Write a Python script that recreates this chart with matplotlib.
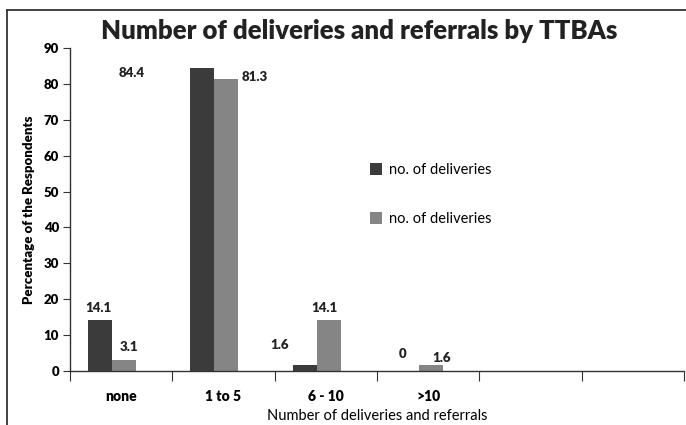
import numpy as np
import matplotlib
matplotlib.use("Agg")
import matplotlib.pyplot as plt
from matplotlib.lines import Line2D

# data
categories = ["none", "1 to 5", "6 - 10", ">10", "", ""]
deliveries = [14.1, 84.4, 1.6, 0]
referrals = [3.1, 81.3, 14.1, 1.6]
legend_labels = ["no. of deliveries", "no. of deliveries"]
yticks = [0, 10, 20, 30, 40, 50, 60, 70, 80, 90]

plt.rcParams['font.family'] = ['Lato', 'DejaVu Sans']
BOLD = "heavy"

fig = plt.figure(figsize=(6.86, 4.25), dpi=100)
ax = fig.add_axes([70 / 686, 1 - 371 / 425, 614 / 686, 323 / 425])

# frame around the figure (clipped by the image edges)
fx, fy = 7 / 686, 1 - 10 / 425
fig.add_artist(Line2D([fx, fx], [-0.1, fy], transform=fig.transFigure, color="#333333", lw=1.3))
fig.add_artist(Line2D([fx, 1.1], [fy, fy], transform=fig.transFigure, color="#333333", lw=1.3))

w = 0.235
shift = -0.09
x = np.arange(len(deliveries))
dark, light = "#3b3b3b", "#858585"
b1 = ax.bar(x + shift - w / 2, deliveries, w, color=dark, label=legend_labels[0])
b2 = ax.bar(x + shift + w / 2, referrals, w, color=light, label=legend_labels[1])

# value labels
lab_kw = dict(fontsize=9.5, fontweight=BOLD, color="#222222", textcoords="offset pixels")
for i, (r1, r2) in enumerate(zip(b1, b2)):
    v1, v2 = deliveries[i], referrals[i]
    c1 = r1.get_x() + w / 2
    c2 = r2.get_x() + w / 2
    if i == 1:
        ax.annotate(f"{v1:g}", (r1.get_x(), v1), xytext=(-46, -5), ha="right", va="center", **lab_kw)
        ax.annotate(f"{v2:g}", (r2.get_x() + w, v2), xytext=(3, 2), ha="left", va="center", **lab_kw)
    elif i == 2:
        ax.annotate(f"{v1:g}", (c1, v1), xytext=(-25, 14), ha="center", va="bottom", **lab_kw)
        ax.annotate(f"{v2:g}", (c2, v2), xytext=(-4, 6), ha="center", va="bottom", **lab_kw)
    elif i == 3:
        ax.annotate(f"{v1:g}", (c1, v1), xytext=(-4, 11), ha="center", va="bottom", **lab_kw)
        ax.annotate(f"{v2:g}", (c2, v2), xytext=(11, 1), ha="center", va="bottom", **lab_kw)
    else:
        ax.annotate(f"{v1:g}", (c1, v1), xytext=(-2, 6), ha="center", va="bottom", **lab_kw)
        ax.annotate(f"{v2:g}", (c2, v2), xytext=(5, 7), ha="center", va="bottom", **lab_kw)

ax.set_xlim(-0.5, len(categories) - 0.5)
ax.set_ylim(0, 90)
ax.set_yticks(yticks)
ax.set_yticklabels([str(t) for t in yticks], fontsize=9.5, fontweight=BOLD)
ax.set_xticks(np.arange(len(categories) + 1) - 0.5)
ax.set_xticklabels([])
ax.set_xticks(np.arange(len(categories)), minor=True)
ax.set_xticklabels(categories, minor=True, fontsize=10, fontweight=BOLD)
ax.tick_params(axis="x", which="minor", length=0, pad=14)
ax.tick_params(axis="x", which="major", length=7, direction="out", color="#333333")
ax.tick_params(axis="y", length=5, direction="out", color="#333333", pad=3)

for s in ["top", "right"]:
    ax.spines[s].set_visible(False)
for s in ["left", "bottom"]:
    ax.spines[s].set_color("#333333")
    ax.spines[s].set_linewidth(1.0)

ax.set_ylabel("Percentage of the Respondents", fontsize=9.5, fontweight=BOLD, labelpad=6)
ax.set_xlabel("Number of deliveries and referrals", fontsize=10.5, labelpad=4)
fig.text(359 / 686, 1 - 31 / 425, "Number of deliveries and referrals by TTBAs",
         ha="center", va="center", fontsize=18.5, fontweight=BOLD, color="#222222")

ax.legend(loc="upper left", bbox_to_anchor=((357 - 70) / 614, (371 - 150) / 323),
          frameon=False, fontsize=10.5, labelspacing=2.4, handlelength=0.8, handleheight=0.8,
          handletextpad=0.5)

fig.savefig("out.png", dpi=100)
